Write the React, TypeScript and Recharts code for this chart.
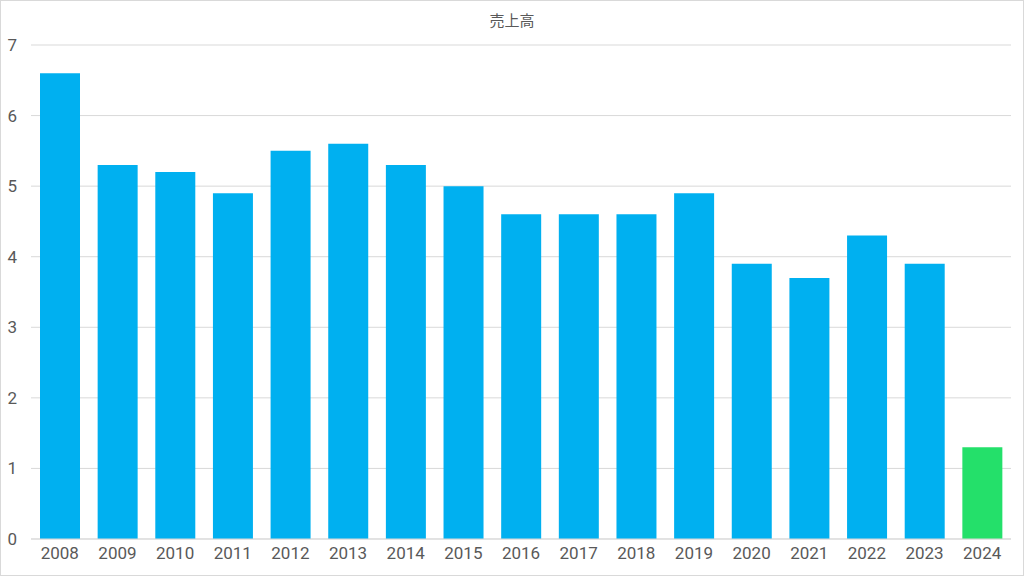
import { BarChart, Bar, XAxis, YAxis, CartesianGrid, Cell } from "recharts";

const YEARS = [
  "2008", "2009", "2010", "2011", "2012", "2013", "2014", "2015", "2016",
  "2017", "2018", "2019", "2020", "2021", "2022", "2023", "2024",
];
const SALES = [6.6, 5.3, 5.2, 4.9, 5.5, 5.6, 5.3, 5.0, 4.6, 4.6, 4.6, 4.9, 3.9, 3.7, 4.3, 3.9, 1.3];
const Y_TICKS = [0, 1, 2, 3, 4, 5, 6, 7];

const BLUE = "#00B0F0";
const GREEN = "#24E06A";
const TEXT = "#595959";

const data = YEARS.map((year, i) => ({ year, value: SALES[i] }));

export default function App() {
  return (
    <div
      style={{
        position: "absolute",
        left: 0,
        top: 0,
        width: 1024,
        height: 576,
        boxSizing: "border-box",
        border: "1px solid #d9d9d9",
        background: "#fff",
        fontFamily: "Roboto, 'Noto Sans CJK JP', sans-serif",
      }}
    >
      <div
        style={{
          position: "absolute",
          top: 8,
          left: 0,
          width: "100%",
          textAlign: "center",
          fontSize: 15,
          color: TEXT,
          fontFamily: "'Noto Sans CJK JP', sans-serif",
        }}
      >
        売上高
      </div>
      <div style={{ position: "absolute", left: -1, top: -1 }}>
        <BarChart
          width={1024}
          height={576}
          data={data}
          margin={{ top: 45, right: 13, bottom: 7, left: 0 }}
        >
          <CartesianGrid vertical={false} stroke="#d9d9d9" />
          <XAxis
            dataKey="year"
            axisLine={{ stroke: "#d9d9d9" }}
            tickLine={false}
            tickSize={0}
            tickMargin={8}
            height={30}
            tick={{ fill: TEXT, fontSize: 17 }}
            interval={0}
          />
          <YAxis
            domain={[0, 7]}
            ticks={Y_TICKS}
            axisLine={false}
            tickLine={false}
            tickSize={0}
            tickMargin={14}
            width={31}
            tick={{ fill: TEXT, fontSize: 17 }}
          />
          <Bar dataKey="value" barSize={40} isAnimationActive={false}>
            {data.map((d, i) => (
              <Cell key={d.year} fill={i === data.length - 1 ? GREEN : BLUE} />
            ))}
          </Bar>
        </BarChart>
      </div>
    </div>
  );
}
